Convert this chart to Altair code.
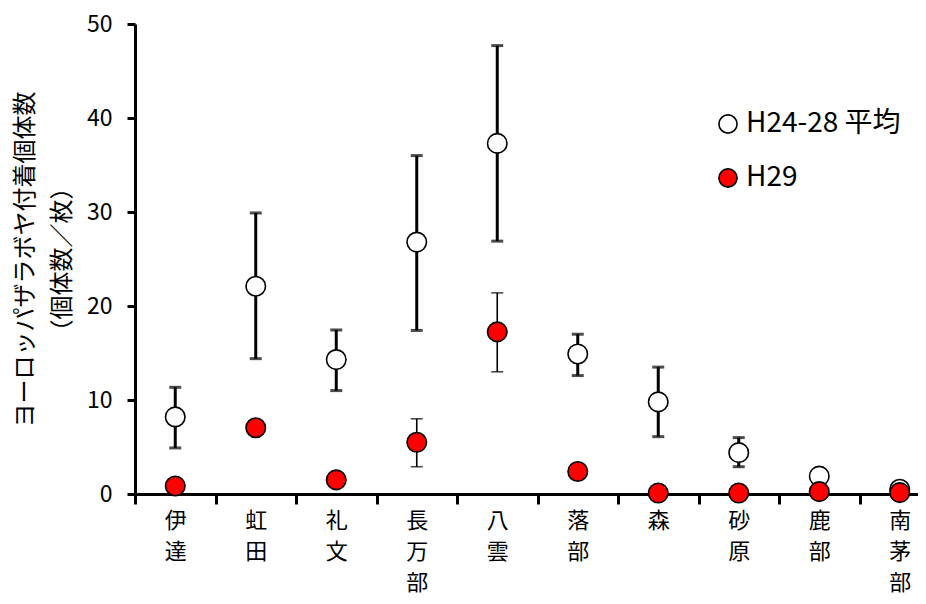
import altair as alt
import pandas as pd

sites = ["伊達", "虹田", "礼文", "長万部", "八雲", "落部", "森", "砂原", "鹿部", "南茅部"]
series = ["H24-28 平均", "H29"]

avg_mean = [8.2, 22.1, 14.3, 26.8, 37.3, 14.9, 9.8, 4.4, 1.9, 0.5]
avg_hi = [11.35, 29.9, 17.45, 36.0, 47.7, 17.0, 13.5, 6.0, None, None]
avg_lo = [4.9, 14.4, 11.0, 17.4, 26.9, 12.6, 6.1, 2.9, None, None]

h29_mean = [0.85, 7.05, 1.5, 5.5, 17.25, 2.4, 0.1, 0.1, 0.25, 0.15]
h29_hi = [None, None, None, 8.0, 21.4, None, None, None, None, None]
h29_lo = [None, None, None, 2.9, 13.0, None, None, None, None, None]

y_ticks = [0, 10, 20, 30, 40, 50]
y_title = ["ヨーロッパザラボヤ付着個体数", "（個体数／枚）"]

rows = []
for name, m, lo, hi in [(series[0], avg_mean, avg_lo, avg_hi), (series[1], h29_mean, h29_lo, h29_hi)]:
    for i, s in enumerate(sites):
        rows.append({"site": s, "series": name, "v": m[i], "lo": lo[i], "hi": hi[i]})
df = pd.DataFrame(rows)

FONT = "Noto Sans CJK JP"

x_enc = alt.X(
    "site:N",
    sort=sites,
    scale=alt.Scale(type="band", range=[0, 805], paddingInner=0, paddingOuter=0),
    axis=alt.Axis(
        title=None,
        labelAngle=0,
        labelExpr="split(datum.label, '')",
        tickBand="extent",
        labelFontSize=22,
        labelLineHeight=31,
        labelBaseline="top",
        labelPadding=6,
        tickSize=10,
    ),
)
y_scale = alt.Scale(domain=[0, 50], nice=False)
y_enc = alt.Y(
    "v:Q",
    scale=y_scale,
    axis=alt.Axis(
        values=y_ticks,
        title=y_title,
        titleFontSize=24,
        titleFontWeight="normal",
        titleLineHeight=37,
        titlePadding=12,
        labelFontSize=23,
        labelPadding=15,
        tickSize=8,
    ),
)

base = alt.Chart(df)


def errbars(name, width):
    d = base.transform_filter(alt.datum.series == name).transform_filter("isValid(datum.hi)")
    rule = d.mark_rule(color="black", strokeWidth=width).encode(
        x=x_enc, y=alt.Y("lo:Q", scale=y_scale), y2="hi:Q"
    )
    cap_hi = d.mark_tick(color="black", thickness=width, size=12, orient="horizontal").encode(
        x=x_enc, y=alt.Y("hi:Q", scale=y_scale)
    )
    cap_lo = d.mark_tick(color="black", thickness=width, size=12, orient="horizontal").encode(
        x=x_enc, y=alt.Y("lo:Q", scale=y_scale)
    )
    return rule + cap_hi + cap_lo


points = base.mark_point(filled=True, stroke="black", strokeWidth=1.6, size=380, opacity=1, shape="circle").encode(
    x=x_enc,
    y=y_enc,
    fill=alt.Fill(
        "series:N",
        scale=alt.Scale(domain=series, range=["#FFFFFF", "#FF0000"]),
        legend=alt.Legend(
            title=None,
            orient="none",
            legendX=579,
            legendY=86,
            symbolType="circle",
            symbolSize=330,
            symbolStrokeColor="black",
            symbolStrokeWidth=1.6,
            labelFontSize=28,
            labelFont=FONT,
            labelColor="black",
            labelOffset=4,
            rowPadding=26,
        ),
    ),
)

chart = (
    alt.layer(errbars(series[0], 3), errbars(series[1], 1.6), points)
    .properties(
        width=783,
        height=470,
        autosize=alt.AutoSizeParams(type="none"),
        padding={"left": 127, "top": 16, "right": 0, "bottom": 102},
        background="white",
    )
    .configure_view(stroke=None)
    .configure_axis(
        domainColor="black",
        domainWidth=3,
        tickColor="black",
        tickWidth=3,
        labelColor="black",
        titleColor="black",
        labelFont=FONT,
        titleFont=FONT,
        grid=False,
    )
)

chart.save("out.html", embed_options={"renderer": "svg", "actions": False})
